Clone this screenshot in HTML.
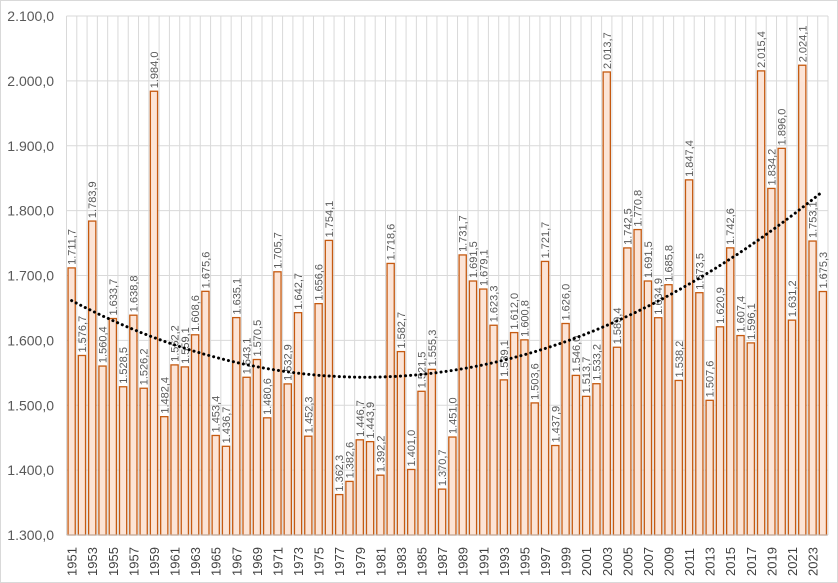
<!DOCTYPE html>
<html><head><meta charset="utf-8"><style>
body{margin:0;background:#fff;font-family:"Liberation Sans",sans-serif}
svg{display:block}
</style></head><body>
<svg id="c" width="838" height="583"></svg>
<script>
const years=[];for(let y=1951;y<=2024;y++)years.push(y);
const values=[1711.7,1576.7,1783.9,1560.4,1633.7,1528.5,1638.8,1526.2,1984.0,1482.4,1562.2,1559.1,1608.6,1675.6,1453.4,1436.7,1635.1,1543.1,1570.5,1480.6,1705.7,1532.9,1642.7,1452.3,1656.6,1754.1,1362.3,1382.6,1446.7,1443.9,1392.2,1718.6,1582.7,1401.0,1521.5,1555.3,1370.7,1451.0,1731.7,1691.5,1679.1,1623.3,1539.1,1612.0,1600.8,1503.6,1721.7,1437.9,1626.0,1546.0,1513.7,1533.2,2013.7,1589.4,1742.5,1770.8,1691.5,1634.9,1685.8,1538.2,1847.4,1673.5,1507.6,1620.9,1742.6,1607.4,1596.1,2015.4,1834.2,1896.0,1631.2,2024.1,1753.1,1675.3];
const yTicks=[1300,1400,1500,1600,1700,1800,1900,2000,2100];
const NS='http://www.w3.org/2000/svg';
const svg=document.getElementById('c');
const L=66.5,R=828,T=16,B=535,ymin=1300,ymax=2100;
const n=years.length,slot=(R-L)/n;
const X=i=>L+slot*(i+0.5);
const Y=v=>B-(v-ymin)/(ymax-ymin)*(B-T);
const fmt=v=>{let s=v.toFixed(1).replace('.',',');return s.replace(/^(\d)(\d{3})/,'$1.$2');};
function mk(t,a,p){const e=document.createElementNS(NS,t);for(const k in a)e.setAttribute(k,a[k]);(p||svg).appendChild(e);return e;}
const frame=mk('rect',{x:0.5,y:0.5,width:837,height:582,fill:'#fff',stroke:'#d9d9d9'});


for(let i=0;i<=n;i++){const x=L+slot*i;const g=mk('line',{x1:x,x2:x,y1:T,y2:B,stroke:'#d9d9d9','stroke-width':1});

}
yTicks.forEach(t=>{const y=Y(t);const g=mk('line',{x1:L,x2:R,y1:y,y2:y,stroke:'#d9d9d9'});


const tx=mk('text',{x:54,y:y+5,'text-anchor':'end','font-size':14,fill:'#595959'});tx.textContent=fmt(t);

});
values.forEach((v,i)=>{const bw=7.2;const b=mk('rect',{x:X(i)-bw/2,y:Y(v),width:bw,height:B-Y(v),fill:'#fce4d6',stroke:'#c55a11','stroke-width':1.3});


const tx=mk('text',{transform:`translate(${X(i)+4},${Y(v)-3}) rotate(-90)`,'font-size':11,fill:'#595959'});tx.textContent=fmt(v);


if(i%2===0){const xl=mk('text',{transform:`translate(${X(i)+5},${B+41}) rotate(-90)`,'font-size':13,fill:'#404040'});xl.textContent=years[i];

}});
// quadratic trendline via least squares
let S=[0,0,0,0,0],Ty=[0,0,0];
values.forEach((v,i)=>{const x=i+1;for(let k=0;k<5;k++)S[k]+=Math.pow(x,k);for(let k=0;k<3;k++)Ty[k]+=v*Math.pow(x,k);});
const M=[[S[0],S[1],S[2],Ty[0]],[S[1],S[2],S[3],Ty[1]],[S[2],S[3],S[4],Ty[2]]];
for(let c=0;c<3;c++){for(let r=c+1;r<3;r++){const f=M[r][c]/M[c][c];for(let k=c;k<4;k++)M[r][k]-=f*M[c][k];}}
const co=[0,0,0];for(let r=2;r>=0;r--){let s=M[r][3];for(let k=r+1;k<3;k++)s-=M[r][k]*co[k];co[r]=s/M[r][r];}
let d='';for(let i=0;i<=n-1+1e-9;i+=0.25){const x=i+1;const v=co[0]+co[1]*x+co[2]*x*x;d+=(d?'L':'M')+X(i).toFixed(1)+','+Y(v).toFixed(1);}
const tl=mk('path',{d,fill:'none',stroke:'#000','stroke-width':3,'stroke-dasharray':'0.1 5','stroke-linecap':'round'});


const ax=mk('line',{x1:L,x2:R,y1:B,y2:B,stroke:'#bfbfbf'});


</script>
</body></html>
